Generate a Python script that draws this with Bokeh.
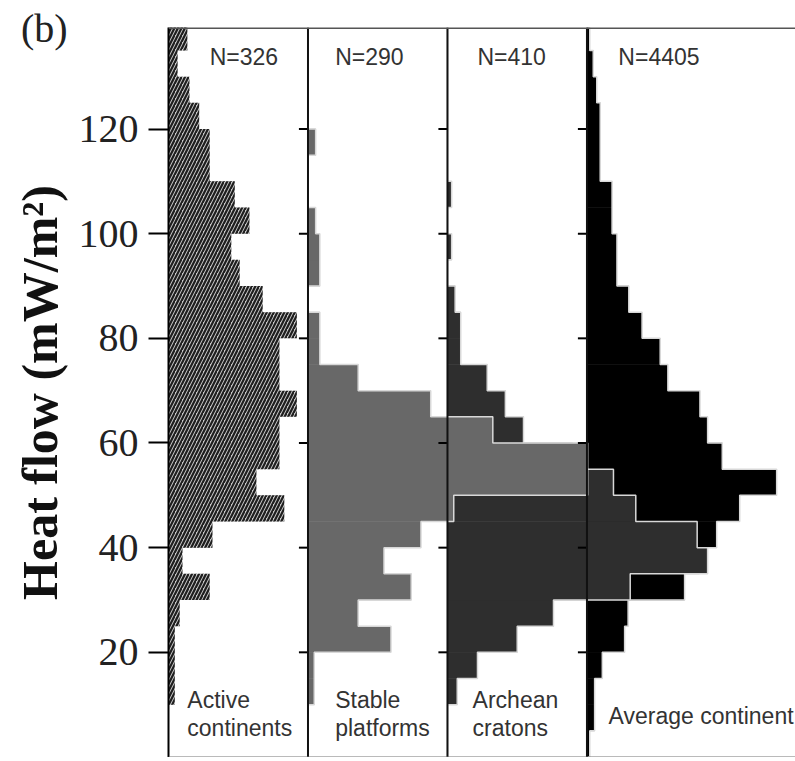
from bokeh.plotting import figure
from bokeh.models import Range1d, FixedTicker, Span, Label, Div
from bokeh.layouts import column
from bokeh.embed import file_html
from bokeh.resources import INLINE

# ---------------- data ----------------
BIN_LO = list(range(0, 140, 5))          # lower edge of each 5 mW/m^2 bin
BIN_WIDTH = 5
# relative frequencies (arbitrary units, panel width = 20)
active = [0, 0, 0.9, 0.9, 0.9, 1.6, 5.9, 2.0, 6.3, 16.6, 12.6, 15.9, 15.9, 18.4,
          15.9, 15.9, 18.4, 13.5, 10.2, 9.0, 11.6, 9.5, 5.9, 5.9, 4.4, 3.0, 1.3, 2.7]
stable = [0, 0, 0.9, 0.9, 11.9, 7.2, 14.8, 10.9, 16.2, 20.9, 40.1, 40.1, 26.5, 17.6,
          7.2, 1.7, 1.7, 0, 1.7, 1.7, 1.1, 0, 0, 1.1, 0, 0, 0, 0]
archean = [0, 0, 1.4, 4.3, 10.0, 15.2, 26.2, 37.3, 35.8, 27.0, 23.8, 17.9, 10.9, 8.3,
           5.7, 1.9, 1.9, 1.1, 0, 0.6, 0, 0.6, 0, 0, 0, 0, 0, 0]
average = [0.4, 1.1, 1.1, 2.2, 5.4, 5.9, 14.0, 16.1, 18.6, 21.9, 27.2, 19.4, 17.3, 16.2,
           11.6, 10.5, 7.9, 6.0, 4.3, 4.3, 3.6, 3.6, 1.9, 1.9, 1.9, 1.4, 0.9, 0.4]
N_LABELS = ["N=326", "N=290", "N=410", "N=4405"]
PANEL_NAMES = ["Active\ncontinents", "Stable\nplatforms", "Archean\ncratons", "Average continent"]
Y_TICKS = [20, 40, 60, 80, 100, 120]
Y_TITLE = "Heat flow (mW/m²)"
PANEL_TAG = "(b)"

# ---------------- layout constants ----------------
PANEL_STEP = 20
N_X = [5.9, 3.9, 4.3, 4.5]
NAME_X = [2.7, 3.9, 3.6, 3.1]

p = figure(width=795, height=757, output_backend="svg", toolbar_location=None,
           x_range=Range1d(0, 89.9), y_range=Range1d(-0.1, 139.4))
p.min_border_left = 168
p.min_border_right = 0
p.min_border_top = 27
p.min_border_bottom = 0
p.outline_line_color = None
p.grid.visible = False
p.xaxis.visible = False
p.background_fill_color = "white"
p.border_fill_color = "white"

ya = p.yaxis[0]
ya.ticker = FixedTicker(ticks=Y_TICKS)
ya.minor_tick_line_color = None
ya.major_tick_out = 20
ya.major_tick_in = 0
ya.major_tick_line_width = 2
ya.major_tick_line_color = "black"
ya.axis_line_width = 2
ya.axis_line_color = "black"
ya.major_label_text_font = "Liberation Serif"
ya.major_label_text_font_size = "40px"
ya.major_label_text_color = "#222222"
ya.major_label_standoff = 10
ya.axis_label = Y_TITLE
ya.axis_label_text_font = "Liberation Serif"
ya.axis_label_text_font_style = "bold"
ya.axis_label_text_font_size = "50px"
ya.axis_label_text_color = "#111111"
ya.axis_label_standoff = 8

centers = [lo + BIN_WIDTH / 2 for lo in BIN_LO]
BAR_H = BIN_WIDTH * 1.02   # tiny overlap hides anti-alias seams

def outline(vals, base):
    xs, ys = [base], [BIN_LO[0]]
    for lo, v in zip(BIN_LO, vals):
        xs += [base + v, base + v]
        ys += [lo, lo + BIN_WIDTH]
    xs.append(base)
    ys.append(BIN_LO[-1] + BIN_WIDTH)
    return xs, ys

series = [active, stable, archean, average]
fills = [None, "#686868", "#2e2e2e", "#000000"]

# active continents: hatched step histogram (one outline so the hatch is continuous)
ax_, ay_ = outline(active, 0)
p.patch(ax_, ay_, fill_color="#c8c8c8", line_color=None, hatch_pattern="/",
        hatch_color="#1e1e1e", hatch_scale=7, hatch_weight=2.2)

# draw order: average, archean, stable (stable on top)
for idx in [3, 2, 1]:
    base = idx * PANEL_STEP
    vals = series[idx]
    p.hbar(y=centers, height=BAR_H, left=base, right=[base + v for v in vals],
           fill_color=fills[idx], line_color=None)
    xs, ys = outline(vals, base)
    p.line(xs, ys, line_color="#d8d8d8", line_width=1.5)

# panel baselines and their small ticks
for k in range(1, 4):
    base = k * PANEL_STEP
    p.add_layout(Span(location=base, dimension="height", line_color="#111111", line_width=2))
    p.segment(x0=[base - 1.3] * len(Y_TICKS), y0=Y_TICKS, x1=[base] * len(Y_TICKS), y1=Y_TICKS,
              line_color="black", line_width=2)

# top and bottom borders
p.add_layout(Span(location=139.4, dimension="width", line_color="#555555", line_width=3))
p.add_layout(Span(location=-0.1, dimension="width", line_color="#777777", line_width=2))

# N labels
for k, t in enumerate(N_LABELS):
    p.add_layout(Label(x=k * PANEL_STEP + N_X[k], y=133.7, text=t,
                       text_font="Liberation Sans", text_font_size="23px",
                       text_color="#333333", text_align="left", text_baseline="middle"))

# panel names
LINE_GAP = 5.35
for k, name in enumerate(PANEL_NAMES):
    lines = name.split("\n")
    ys_ = [7.85] if len(lines) == 1 else [10.8, 10.8 - LINE_GAP]
    for ln, yy in zip(lines, ys_):
        p.add_layout(Label(x=k * PANEL_STEP + NAME_X[k], y=yy, text=ln,
                           text_font="Liberation Sans", text_font_size="23px",
                           text_color="#333333", text_align="left", text_baseline="middle"))

# panel tag "(b)" in the top-left corner, overlaid as HTML
tag = Div(text=PANEL_TAG, styles={"position": "absolute", "left": "16px", "top": "2px",
                                  "z-index": "10", "font-family": "Liberation Serif",
                                  "font-size": "40px", "color": "#222222",
                                  "line-height": "1.1"})

layout = column(p, tag, spacing=0)
open("out.html", "w").write(file_html(layout, INLINE))
